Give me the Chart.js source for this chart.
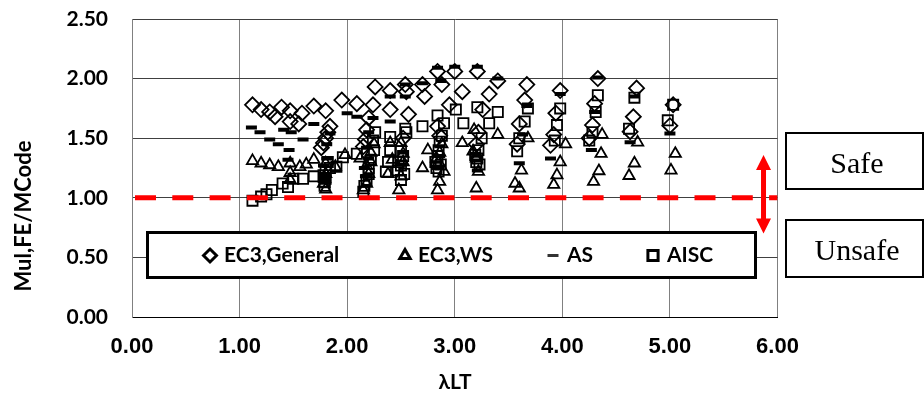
<!DOCTYPE html>
<html>
<head>
<meta charset="utf-8">
<script src="https://cdn.jsdelivr.net/npm/chart.js@4.4.1/dist/chart.umd.min.js"></script>
<style>
  html, body { margin: 0; padding: 0; background: #ffffff; }
  canvas { display: block; }
</style>
</head>
<body>
<canvas id="chart" width="924" height="396"></canvas>
<script>
// Series: [λLT, Mul,FE / MCode]
const ec3General = [
  [1.12,1.78],[1.20,1.74],[1.28,1.72],[1.33,1.68],[1.39,1.76],[1.47,1.73],[1.47,1.64],[1.55,1.62],
  [1.58,1.71],[1.69,1.77],[1.80,1.73],[1.84,1.60],[1.82,1.55],[1.80,1.50],[1.78,1.46],[1.76,1.42],
  [1.95,1.82],[2.09,1.79],
  [2.24,1.78],[2.26,1.93],[2.20,1.67],[2.18,1.57],[2.17,1.49],[2.15,1.43],
  [2.40,1.90],[2.40,1.74],
  [2.54,1.95],[2.55,1.89],[2.57,1.70],[2.52,1.50],
  [2.70,1.95],[2.72,1.85],
  [2.84,2.06],[2.88,1.95],[2.95,1.78],[2.86,1.52],[2.84,1.60],
  [3.00,2.06],[3.07,1.89],
  [3.21,2.06],[3.32,1.87],[3.26,1.74],[3.22,1.55],[3.20,1.45],
  [3.40,1.98],
  [3.67,1.95],[3.65,1.82],[3.60,1.62],[3.58,1.45],
  [3.98,1.90],[3.94,1.71],[3.92,1.53],[3.89,1.44],
  [4.33,2.00],[4.30,1.79],[4.28,1.61],[4.25,1.50],
  [4.69,1.92],[4.66,1.68],[4.63,1.555],
  [5.03,1.78],[5.00,1.605]
];
const ec3WS = [
  [1.12,1.31],[1.20,1.29],[1.28,1.275],[1.36,1.26],[1.47,1.29],[1.56,1.26],[1.62,1.28],[1.69,1.32],
  [1.80,1.29],[1.89,1.26],[1.98,1.36],[1.47,1.21],[1.47,1.15],[1.78,1.12],[1.80,1.07],
  [1.80,1.20],[1.79,1.16],
  [2.15,1.065],[2.18,1.12],[2.20,1.20],[2.22,1.30],[2.25,1.45],[2.12,1.33],[2.18,1.27],[2.22,1.38],
  [2.40,1.46],[2.42,1.32],[2.38,1.20],
  [2.50,1.46],[2.52,1.30],[2.50,1.18],[2.48,1.065],[2.52,1.37],
  [2.75,1.40],[2.70,1.25],
  [2.85,1.30],[2.86,1.135],[2.84,1.065],[2.90,1.22],[2.88,1.45],[2.86,1.38],[2.83,1.33],
  [3.07,1.46],
  [3.18,1.57],[3.17,1.39],[3.22,1.22],[3.20,1.08],[3.20,1.33],
  [3.40,1.53],
  [3.68,1.50],[3.62,1.23],[3.56,1.12],[3.60,1.08],
  [4.03,1.45],[3.98,1.30],[3.95,1.19],[3.92,1.11],
  [4.37,1.53],[4.36,1.37],[4.34,1.225],[4.29,1.135],
  [4.70,1.465],[4.67,1.29],[4.62,1.185],
  [5.05,1.37],[5.01,1.23]
];
const as = [
  [1.11,1.59],[1.19,1.55],[1.28,1.49],[1.36,1.45],[1.46,1.40],[1.41,1.57],[1.48,1.55],[1.59,1.49],
  [1.69,1.62],[1.81,1.45],[1.84,1.54],[2.00,1.71],[2.09,1.68],[1.45,1.32],[1.81,1.33],[1.79,1.20],[1.80,1.15],
  [1.78,1.27],
  [2.24,1.67],[2.20,1.55],[2.18,1.42],[2.16,1.25],[2.20,1.33],[2.17,1.18],
  [2.40,1.85],[2.40,1.64],
  [2.54,1.95],[2.54,1.85],[2.50,1.28],[2.52,1.38],
  [2.70,1.96],
  [2.84,2.09],[2.87,1.98],[2.86,1.35],[2.84,1.25],
  [3.00,2.10],
  [3.21,2.10],[3.21,1.23],[3.19,1.37],
  [3.40,2.00],
  [3.67,1.77],[3.63,1.53],[3.60,1.29],
  [3.98,1.87],[3.89,1.33],
  [4.33,2.01],[4.30,1.72],[4.27,1.40],
  [4.67,1.85],[4.63,1.465],
  [5.00,1.54]
];
const aisc = [
  [1.12,0.976],[1.20,1.01],[1.25,1.03],[1.30,1.065],[1.40,1.12],[1.45,1.09],[1.50,1.16],[1.59,1.16],
  [1.69,1.18],[1.84,1.25],[1.90,1.26],[1.96,1.34],[2.09,1.37],
  [1.79,1.10],[1.79,1.13],[1.80,1.16],[1.78,1.19],[1.80,1.22],[1.82,1.30],
  [2.15,1.05],[2.16,1.10],[2.18,1.15],[2.20,1.20],[2.20,1.25],[2.22,1.32],[2.24,1.48],[2.25,1.40],[2.26,1.55],
  [2.40,1.51],[2.40,1.40],[2.38,1.30],[2.36,1.22],
  [2.54,1.58],[2.55,1.55],[2.50,1.39],[2.48,1.30],[2.47,1.23],[2.50,1.15],[2.52,1.35],[2.50,1.27],[2.53,1.20],
  [2.70,1.60],
  [2.84,1.69],[2.90,1.625],[2.88,1.52],[2.85,1.40],[2.82,1.30],[2.83,1.25],[2.86,1.47],[2.84,1.35],[2.87,1.28],[2.85,1.22],
  [3.01,1.74],[3.08,1.625],
  [3.21,1.76],[3.32,1.625],[3.25,1.50],[3.21,1.33],[3.20,1.30],[3.22,1.40],[3.19,1.36],[3.23,1.28],
  [3.40,1.72],
  [3.68,1.75],[3.65,1.64],[3.60,1.50],[3.58,1.39],
  [3.98,1.75],[3.95,1.61],[3.93,1.48],
  [4.33,1.86],[4.31,1.72],[4.28,1.55],[4.25,1.48],
  [4.67,1.84],[4.62,1.58],
  [5.03,1.78],[4.98,1.65]
];
// Limit line at ratio 1.0 and the safe / unsafe arrow (data units)
const limitLine = [[0, 1.0], [6, 1.0]];
const arrowX = 5.87;
const arrowRange = [0.70, 1.36];
const seriesLabels = ['EC3,General', 'EC3,WS', 'AS', 'AISC'];
const zoneLabels = ['Safe', 'Unsafe'];

const toPts = arr => arr.map(([x, y]) => ({ x, y }));

const markerStyles = [
  { pointStyle: 'rectRot', radius: 7.5, borderWidth: 1.8 },
  { pointStyle: 'triangle', radius: 6.5, borderWidth: 1.8 },
  { pointStyle: 'line', radius: 5.5, borderWidth: 4 },
  { pointStyle: 'rect', radius: 7.2, borderWidth: 1.8 }
];
const seriesData = [ec3General, ec3WS, as, aisc];

const datasets = [{
  type: 'line',
  label: 'limit',
  data: toPts(limitLine),
  borderColor: '#ff0000',
  borderWidth: 5,
  borderDash: [21, 16.3],
  borderDashOffset: 34.3,
  pointRadius: 0,
  fill: false,
  order: 0
}];
seriesData.forEach((arr, i) => {
  const m = markerStyles[i];
  datasets.push({
    label: seriesLabels[i],
    data: toPts(arr),
    pointStyle: m.pointStyle,
    pointRadius: m.radius,
    pointBorderWidth: m.borderWidth,
    pointBorderColor: '#000000',
    pointBackgroundColor: 'rgba(0,0,0,0)',
    showLine: false,
    order: 4 - i
  });
});

const overlay = {
  id: 'overlay',
  afterDatasetsDraw(chart) {
    const { ctx, scales: { x, y } } = chart;
    ctx.save();
    // double-headed red arrow
    const ax = x.getPixelForValue(arrowX);
    const yT = y.getPixelForValue(arrowRange[1]);
    const yB = y.getPixelForValue(arrowRange[0]);
    const head = 15, hw = 7.5;
    ctx.fillStyle = '#ff0000';
    ctx.fillRect(ax - 2.5, yT + head - 1, 5, (yB - yT) - 2 * head + 2);
    ctx.beginPath();
    ctx.moveTo(ax, yT); ctx.lineTo(ax + hw, yT + head); ctx.lineTo(ax - hw, yT + head); ctx.closePath();
    ctx.moveTo(ax, yB); ctx.lineTo(ax + hw, yB - head); ctx.lineTo(ax - hw, yB - head); ctx.closePath();
    ctx.fill();

    // legend box
    ctx.fillStyle = '#ffffff';
    ctx.fillRect(147, 232, 609, 46);
    ctx.lineWidth = 3;
    ctx.strokeStyle = '#000000';
    ctx.strokeRect(147.5, 232.5, 608, 45);
    const items = [
      { mx: 210, tx: 224, style: { pointStyle: 'rectRot', radius: 6.5, borderWidth: 1.2, rotation: 0 } },
      { mx: 405, tx: 418, style: { pointStyle: 'triangle', radius: 6, borderWidth: 1.2, rotation: 0 } },
      { mx: 553, tx: 567, style: { pointStyle: 'line', radius: 5.5, borderWidth: 3.5, rotation: 0 } },
      { mx: 653, tx: 667, style: { pointStyle: 'rect', radius: 7.2, borderWidth: 1.2, rotation: 0 } }
    ];
    ctx.font = 'bold 21px Lato, "Open Sans", sans-serif';
    ctx.textAlign = 'left';
    ctx.textBaseline = 'alphabetic';
    items.forEach((it, i) => {
      ctx.strokeStyle = i === 2 ? '#333333' : '#000000';
      ctx.fillStyle = 'rgba(0,0,0,0)';
      Chart.helpers.drawPoint(ctx, it.style, it.mx, 255.5);
      ctx.fillStyle = '#000000';
      ctx.fillText(seriesLabels[i], it.tx, 262);
    });
    ctx.restore();
  },
  afterDraw(chart) {
    const { ctx } = chart;
    ctx.save();
    // axis titles
    ctx.fillStyle = '#000000';
    ctx.font = 'bold 21px Lato, "Open Sans", sans-serif';
    ctx.textAlign = 'center';
    ctx.textBaseline = 'alphabetic';
    ctx.fillText('λLT', 455, 389);
    ctx.translate(24, 216);
    ctx.rotate(-Math.PI / 2);
    ctx.font = 'bold 22px Lato, "Open Sans", sans-serif';
    ctx.textBaseline = 'middle';
    ctx.fillText('Mul,FE/MCode', 0, 0);
    ctx.restore();

    // safe / unsafe boxes
    ctx.save();
    ctx.lineWidth = 2;
    ctx.strokeStyle = '#000000';
    ctx.strokeRect(786, 133, 137, 56);
    ctx.strokeRect(786, 220, 137, 57);
    ctx.fillStyle = '#000000';
    ctx.font = '30px "Liberation Serif", "Times New Roman", serif';
    ctx.textAlign = 'center';
    ctx.textBaseline = 'alphabetic';
    ctx.fillText(zoneLabels[0], 857, 172.5);
    ctx.fillText(zoneLabels[1], 857, 260);
    ctx.restore();
  }
};

new Chart(document.getElementById('chart'), {
  type: 'scatter',
  data: { datasets },
  options: {
    responsive: false,
    animation: false,
    events: [],
    layout: { padding: { top: 19, right: 146.5, left: 0, bottom: 0 } },
    plugins: { legend: { display: false }, tooltip: { enabled: false } },
    scales: {
      x: {
        type: 'linear', min: 0, max: 6,
        ticks: {
          stepSize: 1, color: '#000000', padding: 17,
          font: { family: '"Liberation Sans", Arial, sans-serif', size: 22, weight: 'bold' },
          callback: v => v.toFixed(2)
        },
        grid: { color: '#808080', lineWidth: 1, drawTicks: false },
        border: { color: '#000000', width: 1 },
        afterFit: s => { s.height = 79; s.paddingLeft = 0; s.paddingRight = 0; }
      },
      y: {
        type: 'linear', min: 0, max: 2.5,
        ticks: {
          stepSize: 0.5, color: '#000000', padding: 24,
          font: { family: 'Lato, "Open Sans", sans-serif', size: 21, weight: 'bold' },
          callback: v => v.toFixed(2)
        },
        grid: { color: '#404040', lineWidth: 1, drawTicks: false },
        border: { color: '#808080', width: 1 },
        afterFit: s => { s.width = 132; s.paddingTop = 0; s.paddingBottom = 0; }
      }
    }
  },
  plugins: [overlay]
});
</script>
</body>
</html>
